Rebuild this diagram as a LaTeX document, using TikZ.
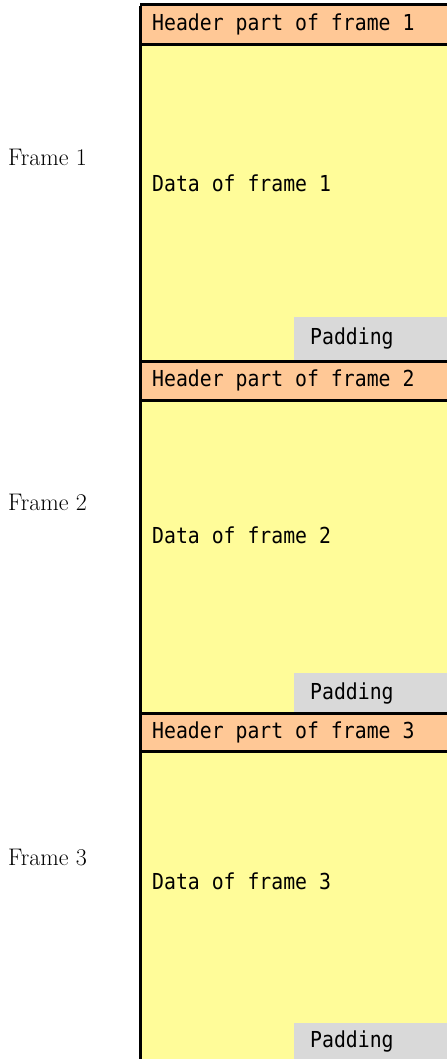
\documentclass[tikz,border=0pt]{standalone}
\usepackage{fontspec}
\newfontfamily\gothic[FakeStretch=0.9]{DejaVu Sans Mono}
\definecolor{hdrc}{HTML}{FFC896}
\definecolor{datc}{HTML}{FFFC99}
\definecolor{padc}{HTML}{D9D9D9}
\begin{document}
\begin{tikzpicture}[x=1pt,y=-1pt,
  hdrbox/.style={fill=hdrc,draw=none,inner sep=0pt,anchor=north west,minimum width=307pt},
  datbox/.style={fill=datc,draw=none,inner sep=0pt,anchor=north west,minimum width=307pt},
  padbox/.style={fill=padc,draw=none,inner sep=0pt,anchor=north west,minimum width=153pt},
  mono/.style={font=\gothic\fontsize{22}{24}\selectfont,inner sep=0pt,anchor=west},
  lbl/.style={font=\fontsize{24}{26}\selectfont,inner sep=0pt,anchor=west},
  sep/.style={line width=3pt,black}]
\useasboundingbox (0,0) rectangle (447,1059);
% frame 1
\node[hdrbox,minimum height=39pt] (h1) at (140,5) {};
\node[datbox,minimum height=317pt] (d1) at (140,44) {};
\node[padbox,minimum height=44pt] (p1) at (294,317) {};
% frame 2
\node[hdrbox,minimum height=39pt] (h2) at (140,361) {};
\node[datbox,minimum height=313pt] (d2) at (140,400) {};
\node[padbox,minimum height=40pt] (p2) at (294,673) {};
% frame 3
\node[hdrbox,minimum height=38pt] (h3) at (140,713) {};
\node[datbox,minimum height=308pt] (d3) at (140,751) {};
\node[padbox,minimum height=36pt] (p3) at (294,1023) {};
% separators
\draw[sep] (h1.north west) -- (h1.north east);
\draw[sep] (h1.south west) -- (h1.south east);
\draw[sep] (h2.north west) -- (h2.north east);
\draw[sep] (h2.south west) -- (h2.south east);
\draw[sep] (h3.north west) -- (h3.north east);
\draw[sep] (h3.south west) -- (h3.south east);
\draw[sep] ([yshift=-1.5pt]h1.north west) -- (d3.south west);
% texts
\node[mono] (t1) at (152,24.5) {Header part of frame 1};
\node[mono] (t2) at (152,380.5) {Header part of frame 2};
\node[mono] (t3) at (152,732) {Header part of frame 3};
\node[mono] (a1) at (152,183) {Data of frame 1};
\node[mono] (a2) at (152,535) {Data of frame 2};
\node[mono] (a3) at (152,881) {Data of frame 3};
\node[mono] (q1) at (310,339) {Padding};
\node[mono] (q2) at (310,693) {Padding};
\node[mono] (q3) at (310,1041) {Padding};
\node[lbl] (f1) at (8,157) {Frame 1};
\node[lbl] (f2) at (8,502) {Frame 2};
\node[lbl] (f3) at (8,858) {Frame 3};
\end{tikzpicture}
\end{document}
